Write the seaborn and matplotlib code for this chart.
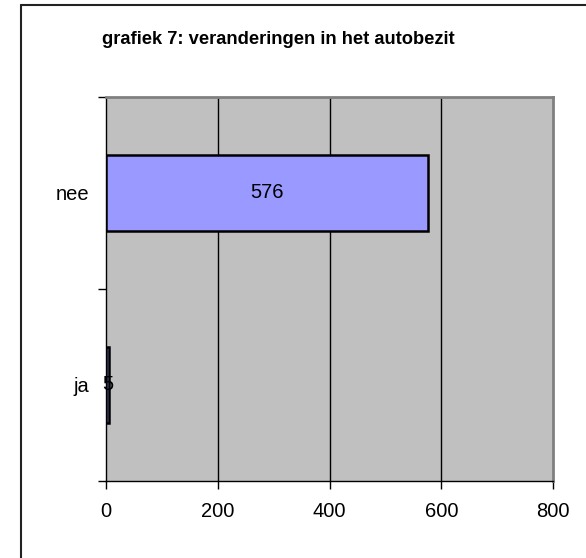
import matplotlib
matplotlib.use("Agg")
import matplotlib.pyplot as plt
import seaborn as sns
import pandas as pd
from matplotlib.lines import Line2D
from matplotlib.ticker import FixedLocator

categories = ["nee", "ja"]
values = [576, 5]
xticks = [0, 200, 400, 600, 800]
title = "grafiek 7: veranderingen in het autobezit"

sns.set_theme(style="white")
plt.rcParams["font.family"] = ["Liberation Sans", "DejaVu Sans"]

df = pd.DataFrame({"cat": categories, "val": values})

W, H = 586, 558
fig = plt.figure(figsize=(W / 100, H / 100), dpi=100)
fig.patch.set_facecolor("white")
l, r, t, b = 106, 553, 97, 481
ax = fig.add_axes([l / W, 1 - b / H, (r - l) / W, (b - t) / H])
ax.set_facecolor("#C0C0C0")

sns.barplot(data=df, x="val", y="cat", order=categories, orient="h",
            color="#9999FF", saturation=1, width=0.4,
            edgecolor="black", linewidth=1.8, ax=ax, zorder=3)

ax.set_xlim(0, 800)
ax.set_ylim(1.5, -0.5)
ax.set_xticks(xticks)
ax.set_xticklabels([str(v) for v in xticks], fontsize=14.5, color="black")
ax.tick_params(axis="x", direction="out", length=6, width=1, color="black",
               pad=9, bottom=True, labelcolor="black")
ax.tick_params(axis="y", which="major", length=0, pad=12, labelsize=14.5,
               labelcolor="black")
ax.yaxis.set_minor_locator(FixedLocator([-0.5, 0.5, 1.5]))
ax.tick_params(axis="y", which="minor", direction="out", length=6, width=1,
               color="black", left=True)
ax.set_xlabel("")
ax.set_ylabel("")

for v in xticks[1:-1]:
    ax.axvline(v, color="black", linewidth=1, zorder=1)

for s in ["left", "bottom"]:
    ax.spines[s].set_color("black")
    ax.spines[s].set_linewidth(1)
for s in ["top", "right"]:
    ax.spines[s].set_color("#808080")
    ax.spines[s].set_linewidth(2)

for i, v in enumerate(values):
    ax.text(v / 2, i, str(v), ha="center", va="center", fontsize=14.5,
            color="black", zorder=5)

fig.text(278 / W, 1 - 40 / H, title, ha="center", va="center",
         fontsize=13.2, fontweight="bold", color="black")

fig.add_artist(Line2D([21 / W, 21 / W], [0, 1 - 5 / H], color="#222222",
                      linewidth=1.5, transform=fig.transFigure))
fig.add_artist(Line2D([21 / W, 1], [1 - 5 / H, 1 - 5 / H], color="#222222",
                      linewidth=1.5, transform=fig.transFigure))

fig.savefig("out.png", dpi=100, facecolor="white")
